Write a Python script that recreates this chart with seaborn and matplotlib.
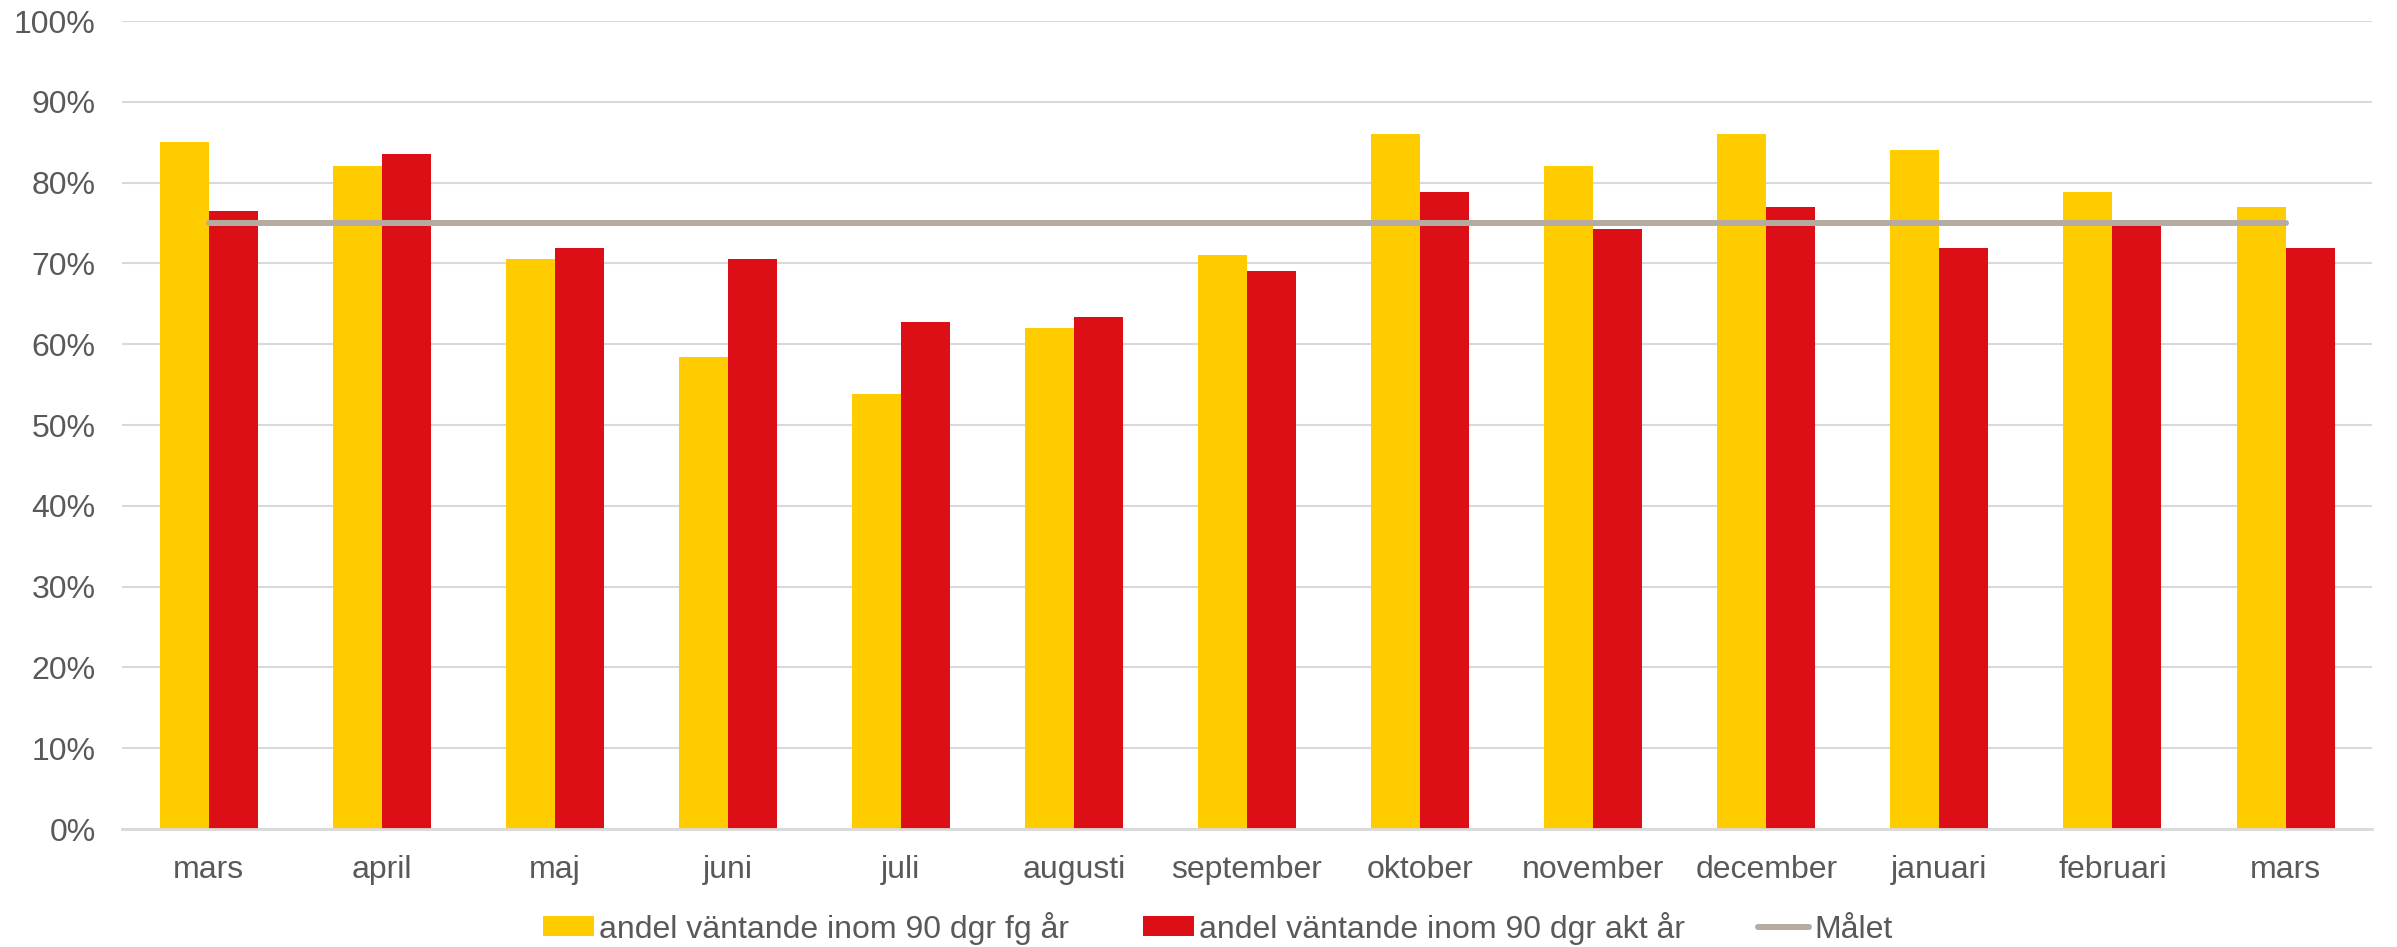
import matplotlib
matplotlib.use("Agg")
import matplotlib.pyplot as plt
import seaborn as sns
import pandas as pd
from matplotlib.patches import Patch
from matplotlib.lines import Line2D
from matplotlib.ticker import FuncFormatter

months = ["mars", "april", "maj", "juni", "juli", "augusti", "september",
          "oktober", "november", "december", "januari", "februari", "mars"]
fg_year = [85.0, 82.0, 70.6, 58.4, 53.9, 62.0, 71.1, 86.0, 82.0, 86.0, 84.0, 78.9, 77.0]
akt_year = [76.5, 83.5, 71.9, 70.6, 62.8, 63.4, 69.1, 78.8, 74.3, 77.0, 71.9, 75.4, 71.9]
goal = [75.0] * len(months)
yticks = [0, 10, 20, 30, 40, 50, 60, 70, 80, 90, 100]

label_fg = "andel väntande inom 90 dgr fg år"
label_akt = "andel väntande inom 90 dgr akt år"
label_goal = "Målet"

c_fg = "#FFCC00"
c_akt = "#DC0F17"
c_goal = "#B5ABA1"
c_text = "#595959"

sns.set_style("white")
plt.rcParams["font.family"] = ["Liberation Sans", "DejaVu Sans"]
fs = 23

idx = list(range(len(months)))
df = pd.DataFrame({
    "pos": idx * 2,
    "value": fg_year + akt_year,
    "series": [label_fg] * len(months) + [label_akt] * len(months),
})

fig = plt.figure(figsize=(23.97, 9.47), dpi=100)
ax = fig.add_axes([0.0509, 0.1246, 0.9387, 0.8532])

sns.barplot(data=df, x="pos", y="value", hue="series",
            hue_order=[label_fg, label_akt],
            palette=[c_fg, c_akt], width=0.566, gap=0,
            saturation=1, ax=ax, legend=False, errorbar=None, zorder=2,
            linewidth=0)

sns.lineplot(x=idx, y=goal, color=c_goal, linewidth=4.3, ax=ax,
             legend=False, zorder=3, solid_capstyle="round")

ax.set_xlim(-0.5, len(months) - 0.5)
ax.set_ylim(0, 100)
ax.set_yticks(yticks)
ax.yaxis.set_major_formatter(FuncFormatter(lambda v, p: f"{int(round(v))}%"))
ax.set_xticks(idx)
ax.set_xticklabels(months)
ax.set_xlabel("")
ax.set_ylabel("")

ax.grid(axis="y", color="#D9D9D9", linewidth=1.5, zorder=0)
ax.set_axisbelow(True)
for s in ["top", "right", "left"]:
    ax.spines[s].set_visible(False)
ax.spines["bottom"].set_color("#D9D9D9")
ax.spines["bottom"].set_linewidth(2)
ax.spines["bottom"].set_zorder(4)

ax.tick_params(axis="both", length=0, labelsize=fs, labelcolor=c_text)
ax.tick_params(axis="y", pad=19)
ax.tick_params(axis="x", pad=19)

handles = [
    Patch(facecolor=c_fg, edgecolor="none", label=label_fg),
    Patch(facecolor=c_akt, edgecolor="none", label=label_akt),
    Line2D([0], [0], color=c_goal, linewidth=4.3, label=label_goal, solid_capstyle="round"),
]
leg = fig.legend(handles=handles, loc="center", bbox_to_anchor=(0.508, 0.02),
                 ncol=3, frameon=False, fontsize=fs, handlelength=1.6,
                 handleheight=0.6, handletextpad=0.15, columnspacing=2.3)
for t in leg.get_texts():
    t.set_color(c_text)

fig.savefig("out.png", dpi=100, facecolor="white")
